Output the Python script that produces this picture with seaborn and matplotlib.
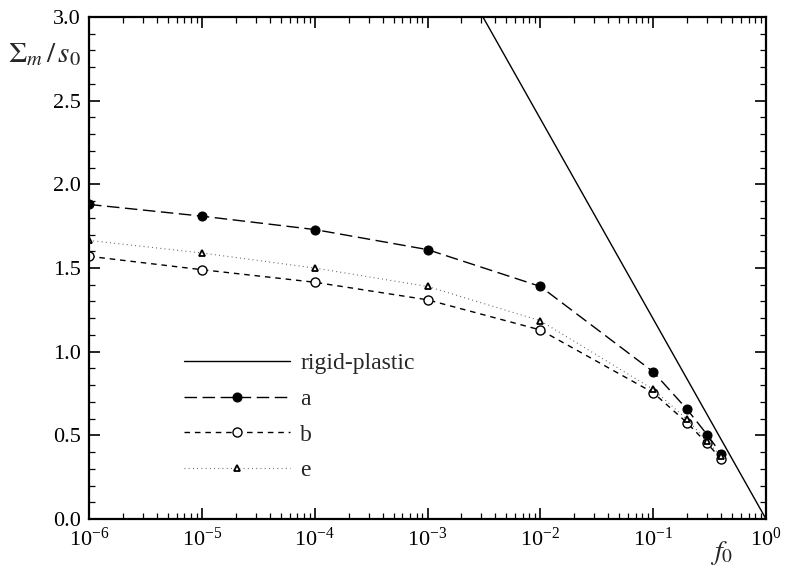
import numpy as np
import pandas as pd
import matplotlib
matplotlib.use("Agg")
import matplotlib.pyplot as plt
from matplotlib.ticker import (FixedLocator, LogLocator, LogFormatterMathtext,
                               MultipleLocator, NullFormatter)
import seaborn as sns

# porosity values (x) and normalised mean stress (y)
f0 = [1e-6, 1e-5, 1e-4, 1e-3, 1e-2, 0.1, 0.2, 0.3, 0.4]
sigma_a = [1.88, 1.81, 1.73, 1.61, 1.39, 0.88, 0.655, 0.505, 0.39]
sigma_b = [1.57, 1.49, 1.415, 1.31, 1.13, 0.755, 0.575, 0.452, 0.36]
sigma_e = [1.665, 1.59, 1.50, 1.39, 1.185, 0.775, 0.595, 0.466, 0.375]

# rigid-plastic limit (straight on log axis)
f0_rigid = [0.0031, 1.0]
sigma_rigid = [3.0, 0.0]

x_decades = [1e-6, 1e-5, 1e-4, 1e-3, 1e-2, 1e-1, 1e0]

sns.set_theme(style="ticks")
plt.rcParams['font.family'] = ['Liberation Serif', 'DejaVu Serif']
plt.rcParams['mathtext.fontset'] = 'stix'
plt.rcParams['axes.linewidth'] = 1.6

fig = plt.figure(figsize=(7.85, 5.79), dpi=100)
ax = fig.add_axes([0.1134, 0.1036, 0.8624, 0.8670])

df = pd.DataFrame({"f0": f0, "a": sigma_a, "b": sigma_b, "e": sigma_e})
rig = pd.DataFrame({"f0": f0_rigid, "s": sigma_rigid})

sns.lineplot(data=rig, x="f0", y="s", ax=ax, color="black", lw=1.0,
             label="rigid-plastic")
sns.lineplot(data=df, x="f0", y="a", ax=ax, color="black", lw=1.0,
             marker="o", markersize=6.5, markerfacecolor="black",
             markeredgecolor="black", label="a")
ax.lines[-1].set_dashes([9, 4])
sns.lineplot(data=df, x="f0", y="b", ax=ax, color="black", lw=1.0,
             marker="o", markersize=6.5, markerfacecolor="white",
             markeredgecolor="black", markeredgewidth=1.0, label="b")
ax.lines[-1].set_dashes([4, 3.5])
sns.lineplot(data=df, x="f0", y="e", ax=ax, color="#555555", lw=0.8,
             marker="^", markersize=5, markerfacecolor="white",
             markeredgecolor="black", markeredgewidth=1.3, label="e")
ax.lines[-1].set_dashes([0.8, 3])

ax.set_xscale("log")
ax.set_xlim(1e-6, 1)
ax.set_ylim(0, 3)
ax.xaxis.set_major_locator(FixedLocator(x_decades))
ax.xaxis.set_major_formatter(LogFormatterMathtext())
ax.xaxis.set_minor_locator(LogLocator(base=10, subs=np.arange(2, 10), numticks=20))
ax.xaxis.set_minor_formatter(NullFormatter())
ax.yaxis.set_major_locator(MultipleLocator(0.5))
ax.yaxis.set_minor_locator(MultipleLocator(0.1))
ax.yaxis.set_major_formatter(plt.FuncFormatter(lambda v, p: f"{v:.1f}"))

ax.tick_params(which="both", direction="in", top=True, right=True,
               labelsize=16, colors="black")
ax.tick_params(which="major", length=8, width=1.2, pad=6)
ax.tick_params(which="minor", length=4, width=0.9)
for s in ax.spines.values():
    s.set_color("black")

ax.set_xlabel("")
ax.set_ylabel("")
fig.text(0.010, 0.905, r"$\Sigma_m\,/\,s_0$", fontsize=21, ha="left", va="center")
fig.text(0.905, 0.045, r"$f_0$", fontsize=20, ha="left", va="center")

leg = ax.legend(loc="upper left", bbox_to_anchor=(0.127, 0.35), frameon=False,
                fontsize=17, handlelength=4.45, handletextpad=0.45,
                labelspacing=0.6, numpoints=1, borderaxespad=0.0)

fig.savefig("out.png", dpi=100)
